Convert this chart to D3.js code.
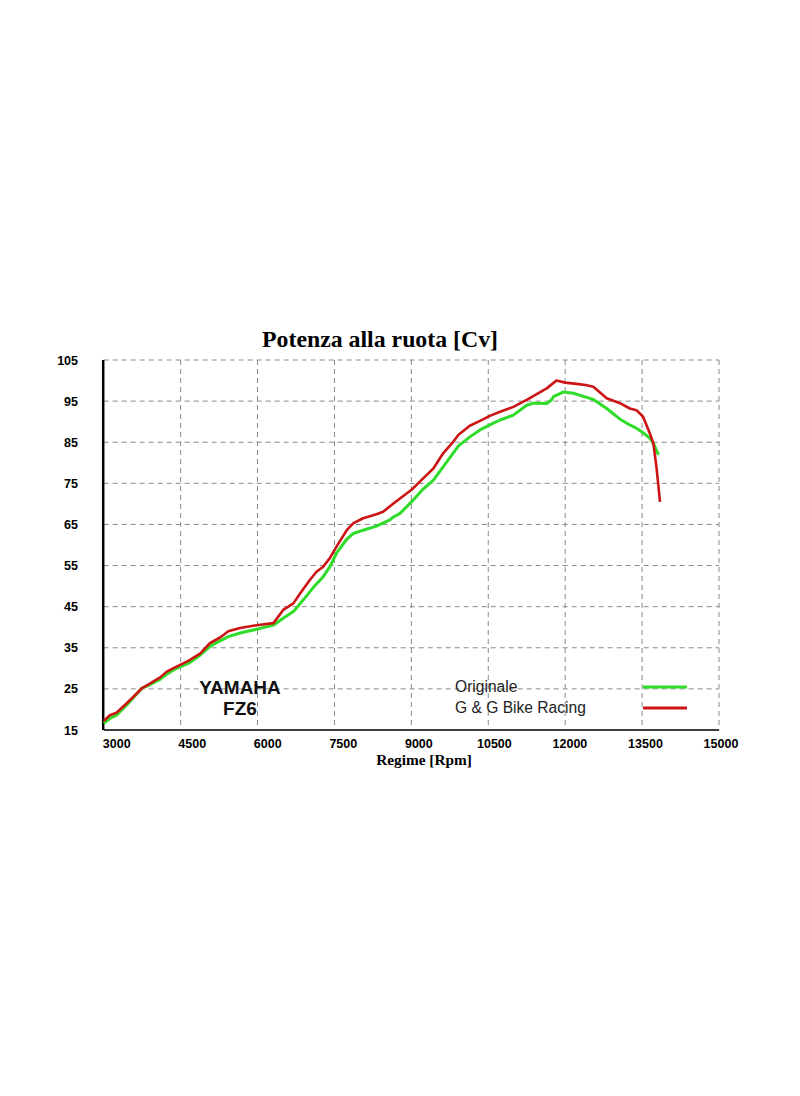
<!DOCTYPE html>
<html>
<head>
<meta charset="utf-8">
<script src="https://cdn.jsdelivr.net/npm/d3@7"></script>
<style>
  body { margin: 0; background: #fff; }
  svg { display: block; }
</style>
</head>
<body>
<script>
// tick values
var xTicks = [3000, 4500, 6000, 7500, 9000, 10500, 12000, 13500, 15000],
    yTicks = [15, 25, 35, 45, 55, 65, 75, 85, 95, 105];

// Originale (green)
var rpmOrig = [3000, 3120, 3250, 3450, 3740, 3900, 4100, 4230, 4420, 4650, 4880, 5070, 5270, 5430, 5660, 5980,
               6310, 6500, 6700, 6890, 7090, 7280, 7410, 7540, 7740, 7870, 8060, 8320, 8580, 8650, 8780, 9010,
               9230, 9430, 9620, 9790, 9920, 10140, 10340, 10530, 10730, 10990, 11250, 11380, 11640, 11740,
               11770, 11960, 12160, 12420, 12550, 12810, 13070, 13260, 13390, 13520, 13650, 13720, 13820];
var cvOrig  = [16.6, 17.8, 18.6, 21.1, 25.1, 26.0, 27.3, 28.6, 30.0, 31.2, 33.2, 35.3, 36.7, 37.7, 38.6, 39.5,
               40.5, 42.2, 43.8, 46.6, 49.7, 52.3, 54.7, 58.0, 61.4, 62.8, 63.6, 64.6, 66.1, 66.8, 67.7, 70.6,
               73.6, 75.8, 79.0, 81.9, 84.1, 86.3, 88.0, 89.2, 90.4, 91.6, 94.0, 94.5, 94.4, 95.4,
               96.1, 97.2, 96.9, 95.9, 95.4, 93.2, 90.6, 89.2, 88.4, 87.3, 86.0, 84.7, 81.9];

// G & G Bike Racing (red)
var rpmGG = [3000, 3120, 3250, 3450, 3580, 3740, 3900, 4100, 4230, 4420, 4650, 4880, 5070, 5270, 5430, 5660,
             5980, 6310, 6500, 6700, 6830, 7020, 7150, 7280, 7410, 7540, 7740, 7870, 8060, 8320, 8450, 8650,
             9010, 9230, 9430, 9620, 9790, 9920, 10140, 10340, 10530, 10730, 10990, 11250, 11640, 11830,
             12000, 12220, 12400, 12550, 12810, 13070, 13260, 13390, 13520, 13650, 13720, 13780, 13850];
var cvGG  = [17.2, 18.6, 19.2, 21.5, 23.1, 25.1, 26.3, 27.8, 29.2, 30.4, 31.8, 33.6, 36.1, 37.5, 39.0, 39.8,
             40.5, 41.0, 44.2, 45.8, 48.2, 51.5, 53.5, 54.7, 56.8, 59.6, 63.6, 65.3, 66.5, 67.5, 68.1, 70.1,
             73.5, 76.2, 78.6, 82.3, 84.7, 86.8, 89.0, 90.2, 91.4, 92.4, 93.6, 95.3, 98.1, 100.0,
             99.5, 99.2, 98.9, 98.5, 95.7, 94.5, 93.2, 92.8, 91.2, 87.2, 84.7, 79.0, 70.5];

var legendNames = ["Originale", "G & G Bike Racing"],
    legendColors = ["#30dc2a", "#cc1414"];

var width = 800,
    height = 1096,
    margin = { top: 360, right: 81, bottom: 366, left: 103.7 };

var x = d3.scaleLinear()
        .domain([3000, 15000])
        .range([margin.left, width - margin.right]);

var y = d3.scaleLinear()
        .domain([15, 105])
        .range([height - margin.bottom, margin.top]);

var svg = d3.select('body')
        .append('svg')
         .attr('width', width)
         .attr('height', height);

// grid
svg.append('g')
    .selectAll('line')
    .data(yTicks.slice(1))
    .enter().append('line')
     .attr('x1', x(3000)).attr('x2', x(15000))
     .attr('y1', function(d) { return y(d); })
     .attr('y2', function(d) { return y(d); })
     .attr('stroke', '#8a8a8a')
     .attr('stroke-width', 1)
     .attr('stroke-dasharray', '5,4');

svg.append('g')
    .selectAll('line')
    .data(xTicks.slice(1))
    .enter().append('line')
     .attr('x1', function(d) { return x(d); })
     .attr('x2', function(d) { return x(d); })
     .attr('y1', y(105)).attr('y2', y(15))
     .attr('stroke', '#8a8a8a')
     .attr('stroke-width', 1)
     .attr('stroke-dasharray', '5,4');

// axes
svg.append('line')
    .attr('x1', x(3000)).attr('x2', x(15000))
    .attr('y1', y(15)).attr('y2', y(15))
    .attr('stroke', '#000').attr('stroke-width', 1.5);
svg.append('line')
    .attr('x1', x(3000) - 0.5).attr('x2', x(3000) - 0.5)
    .attr('y1', y(105)).attr('y2', y(15))
    .attr('stroke', '#000').attr('stroke-width', 2.5);

// tick labels
svg.append('g')
    .selectAll('text')
    .data(yTicks)
    .enter().append('text')
     .attr('x', 78)
     .attr('y', function(d) { return y(d) + 4.5; })
     .attr('text-anchor', 'end')
     .style('font', 'bold 12.5px Arial, "Liberation Sans", sans-serif')
     .text(function(d) { return d; });

svg.append('g')
    .selectAll('text')
    .data(xTicks)
    .enter().append('text')
     .attr('x', function(d) { return x(d) + 13 - (d - 3000) / 12000 * 11; })
     .attr('y', y(15) + 17.5)
     .attr('text-anchor', 'middle')
     .style('font', 'bold 12.5px Arial, "Liberation Sans", sans-serif')
     .text(function(d) { return d; });

// titles
svg.append('text')
    .attr('x', 380).attr('y', 347)
    .attr('text-anchor', 'middle')
    .style('font', 'bold 23.8px "Times New Roman", "Liberation Serif", serif')
    .text('Potenza alla ruota [Cv]');

svg.append('text')
    .attr('x', 424).attr('y', 765)
    .attr('text-anchor', 'middle')
    .style('font', 'bold 15.3px "Times New Roman", "Liberation Serif", serif')
    .text('Regime [Rpm]');

// model label
svg.append('text')
    .attr('x', 240).attr('y', 693.5)
    .attr('text-anchor', 'middle')
    .style('font', 'bold 19px Arial, "Liberation Sans", sans-serif')
    .attr('fill', '#111')
    .text('YAMAHA');
svg.append('text')
    .attr('x', 240).attr('y', 715)
    .attr('text-anchor', 'middle')
    .style('font', 'bold 19px Arial, "Liberation Sans", sans-serif')
    .attr('fill', '#111')
    .text('FZ6');

// curves
var line = d3.line()
        .x(function(d) { return x(d[0]); })
        .y(function(d) { return y(d[1]); });

svg.append('path')
    .datum(d3.zip(rpmOrig, cvOrig))
    .attr('fill', 'none')
    .attr('stroke', legendColors[0])
    .attr('stroke-width', 3)
    .attr('stroke-linejoin', 'round')
    .attr('d', line);

svg.append('path')
    .datum(d3.zip(rpmGG, cvGG))
    .attr('fill', 'none')
    .attr('stroke', legendColors[1])
    .attr('stroke-width', 2.6)
    .attr('stroke-linejoin', 'round')
    .attr('d', line);

// legend
var legend = svg.append('g')
        .selectAll('g')
        .data(legendNames)
        .enter().append('g')
         .attr('transform', function(d, i) { return 'translate(0,' + (687 + i * 21) + ')'; });

legend.append('text')
    .attr('x', 455).attr('y', 5)
    .style('font', '15.6px Arial, "Liberation Sans", sans-serif')
    .attr('fill', '#222')
    .text(function(d) { return d; });

legend.append('line')
    .attr('x1', 643).attr('x2', 687)
    .attr('y1', 0).attr('y2', 0)
    .attr('stroke', function(d, i) { return legendColors[i]; })
    .attr('stroke-width', 3);
</script>
</body>
</html>
